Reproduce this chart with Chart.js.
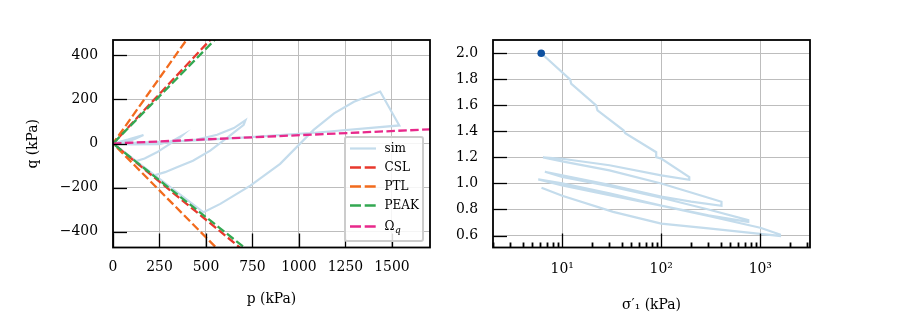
<!DOCTYPE html>
<html>
<head>
<meta charset="utf-8">
<script src="https://cdn.jsdelivr.net/npm/chart.js@4.4.0/dist/chart.umd.min.js"></script>
<style>
  html, body { margin: 0; padding: 0; background: #fff; }
  #wrap { position: relative; width: 900px; height: 330px; }
  canvas { position: absolute; top: 0; }
</style>
</head>
<body>
<div id="wrap">
  <canvas id="pq" width="450" height="330" style="left:0"></canvas>
  <canvas id="es" width="450" height="330" style="left:450px"></canvas>
</div>
<script>
// ---- left panel: stress path in p-q ----
const pSim = [0, 80, 164, 120, 60, 20, 0, 100, 250, 320, 371, 360, 300, 236, 170, 125, 60, 0,
  150, 300, 450, 560, 650, 712, 703, 620, 523, 430, 344, 280, 218, 100, 0,
  400, 739, 1100, 1540, 1437, 1296, 1189, 1079, 899, 739, 577, 487, 250, 0];
const qSim = [0, 18, 39, 22, 3, -6, 0, -4, -3, 12, 36, 28, -5, -40, -68, -80, -38, 0,
  0, 5, 18, 40, 70, 105, 85, 30, -32, -78, -108, -130, -145, -65, 0,
  12, 29, 50, 82, 236, 190, 137, 62, -92, -191, -274, -312, -160, 0];

// failure lines: extension branch, origin, compression branch
const cslP = [1000, 0, 1000];
const cslQ = [-692, 0, 900];
const ptlP = [1000, 0, 1000];
const ptlQ = [-852, 0, 1190];
const peakP = [1000, 0, 1000];
const peakQ = [-668, 0, 860];
const omegaP = [0, 1800];
const omegaQ = [0, 68];

const pTicks = [0, 250, 500, 750, 1000, 1250, 1500];
const qTicks = [-400, -200, 0, 200, 400];

// ---- right panel: void ratio vs sigma1' ----
const sigSim = [6.14, 12.05, 12.3, 22.0, 22.7, 41.6, 43.3, 89, 89, 100.7, 192, 192,
  100, 30, 10, 6.4,
  10, 30, 100, 200, 406, 406,
  200, 100, 30, 10, 6.68,
  10, 30, 100, 300, 757, 757,
  300, 100, 30, 10, 5.73,
  10, 30, 100, 300, 1000, 1582, 1582,
  1000, 300, 100, 32.7, 10, 6.18];
const eSim = [2.0, 1.798, 1.767, 1.6, 1.562, 1.408, 1.387, 1.24, 1.202, 1.19, 1.049, 1.028,
  1.062, 1.14, 1.19, 1.2,
  1.17, 1.1, 1.0, 0.93, 0.859, 0.828,
  0.86, 0.9, 0.99, 1.062, 1.09,
  1.05, 0.98, 0.89, 0.80, 0.718, 0.705,
  0.755, 0.83, 0.925, 1.0, 1.031,
  0.985, 0.91, 0.83, 0.75, 0.66, 0.608, 0.597,
  0.612, 0.655, 0.692, 0.782, 0.905, 0.967];
const sigStart = [6.14];
const eStart = [2.0];

const sigTicks = [2, 3, 4, 5, 6, 7, 8, 9, 10, 20, 30, 40, 50, 60, 70, 80, 90,
  100, 200, 300, 400, 500, 600, 700, 800, 900, 1000, 2000, 3000];
const sigMajor = [10, 100, 1000];
const sigLabels = ['10\u00b9', '10\u00b2', '10\u00b3'];
const eTicks = [0.6, 0.8, 1.0, 1.2, 1.4, 1.6, 1.8, 2.0];

const font = { family: "'DejaVu Serif', serif", size: 13.9 };
const gridColor = '#bdbdbd';
Chart.defaults.color = '#000';
Chart.defaults.font.family = font.family;

const pts = (xs, ys) => xs.map((v, i) => ({ x: v, y: ys[i] }));
const minus = v => (v < 0 ? '\u2212' + (-v) : String(v));

// inward ticks + black frame, like the matplotlib axes
const axesDecor = {
  id: 'axesDecor',
  afterDatasetsDraw(chart) {
    const { ctx, chartArea: a, scales: { x, y } } = chart;
    ctx.save();
    ctx.strokeStyle = '#000';
    for (const t of x.ticks) {
      const px = Math.round(x.getPixelForValue(t.value)) + 0.5;
      ctx.lineWidth = t.major ? 1.3 : 1.8;
      ctx.beginPath();
      ctx.moveTo(px, a.bottom);
      ctx.lineTo(px, a.bottom - (t.major ? 14 : 5));
      ctx.stroke();
    }
    ctx.lineWidth = 1.3;
    for (const t of y.ticks) {
      const py = Math.round(y.getPixelForValue(t.value)) + 0.5;
      ctx.beginPath();
      ctx.moveTo(a.left, py);
      ctx.lineTo(a.left + 14, py);
      ctx.stroke();
    }
    ctx.lineWidth = 1.8;
    ctx.strokeRect(a.left, a.top, a.right - a.left, a.bottom - a.top);
    ctx.restore();
  }
};

// framed legend in the lower right corner, label "A_b" gets a subscript
const boxLegend = {
  id: 'boxLegend',
  afterDraw(chart) {
    const { ctx, chartArea: a } = chart;
    const items = chart.data.datasets.filter(d => d.label);
    const w = 78, h = 104;
    const x0 = a.right - 7 - w, y0 = a.bottom - 6.5 - h;
    const rows = [11.5, 30.5, 49.5, 68.5, 89.5];
    ctx.save();
    ctx.fillStyle = 'rgba(255,255,255,0.85)';
    ctx.strokeStyle = '#cccccc';
    ctx.lineWidth = 2;
    ctx.beginPath();
    ctx.roundRect(x0, y0, w, h, 2);
    ctx.fill();
    ctx.stroke();
    items.forEach((d, i) => {
      const yy = y0 + rows[i];
      ctx.strokeStyle = d.borderColor;
      ctx.lineWidth = d.borderWidth;
      ctx.setLineDash(d.borderDash ? [11, 3.7] : []);
      ctx.beginPath();
      ctx.moveTo(x0 + 5, yy);
      ctx.lineTo(x0 + 31, yy);
      ctx.stroke();
      ctx.setLineDash([]);
      ctx.fillStyle = '#000';
      ctx.textBaseline = 'middle';
      const [main, sub] = d.label.split('_');
      ctx.font = "12px 'DejaVu Serif'";
      ctx.fillText(main, x0 + 39.5, yy);
      if (sub) {
        const mw = ctx.measureText(main).width;
        ctx.font = "italic 9px 'DejaVu Serif'";
        ctx.fillText(sub, x0 + 39.5 + mw + 0.5, yy + 4);
      }
    });
    ctx.restore();
  }
};

const lineSet = (label, xs, ys, color, order) => ({
  label, data: pts(xs, ys), showLine: true, pointRadius: 0,
  borderColor: color, borderWidth: 2.3, borderDash: [8.5, 3.4], order
});

new Chart(document.getElementById('pq'), {
  type: 'scatter',
  data: {
    datasets: [
      { label: 'sim', data: pts(pSim, qSim), showLine: true, pointRadius: 0,
        borderColor: '#c4dcec', borderWidth: 2.2, order: 5 },
      lineSet('CSL', cslP, cslQ, '#e8382d', 4),
      lineSet('PTL', ptlP, ptlQ, '#f26b1d', 3),
      lineSet('PEAK', peakP, peakQ, '#33a852', 2),
      lineSet('\u03a9_q', omegaP, omegaQ, '#e8298b', 1)
    ]
  },
  options: {
    responsive: false, animation: false, events: [],
    layout: { padding: { top: 40, right: 20, left: 0, bottom: 0 } },
    plugins: { legend: { display: false }, tooltip: { enabled: false } },
    scales: {
      x: {
        type: 'linear', min: 0, max: 1705,
        afterBuildTicks: s => { s.ticks = pTicks.map(v => ({ value: v, major: true })); },
        afterFit: s => { s.height = 82.5; },
        grid: { color: gridColor, lineWidth: 1, drawTicks: false },
        border: { display: false },
        ticks: { padding: 11.7, font, autoSkip: false, maxRotation: 0, callback: minus },
        title: { display: true, text: 'p (kPa)', font, padding: { top: 0, bottom: 22.7 } }
      },
      y: {
        type: 'linear', min: -472, max: 470,
        afterBuildTicks: s => { s.ticks = qTicks.map(v => ({ value: v, major: true })); },
        afterFit: s => { s.width = 113; },
        grid: { color: gridColor, lineWidth: 1, drawTicks: false },
        border: { display: false },
        ticks: { padding: 15, font, autoSkip: false, callback: minus },
        title: { display: true, text: 'q (kPa)', font, padding: { top: 24.7, bottom: 0 } }
      }
    }
  },
  plugins: [axesDecor, boxLegend]
});

new Chart(document.getElementById('es'), {
  type: 'scatter',
  data: {
    datasets: [
      { data: pts(sigStart, eStart), pointRadius: 3.8, backgroundColor: '#0d50a0',
        borderWidth: 0, order: 0 },
      { data: pts(sigSim, eSim), showLine: true, pointRadius: 0,
        borderColor: '#c4dcec', borderWidth: 2.2, order: 1 }
    ]
  },
  options: {
    responsive: false, animation: false, events: [],
    layout: { padding: { top: 40, right: 90, left: 0, bottom: 0 } },
    plugins: { legend: { display: false }, tooltip: { enabled: false } },
    scales: {
      x: {
        type: 'logarithmic', min: 2, max: 3180,
        afterBuildTicks: s => { s.ticks = sigTicks.map(v => ({ value: v, major: sigMajor.includes(v) })); },
        afterFit: s => { s.height = 82.5; },
        grid: { color: c => (c.tick && sigMajor.includes(c.tick.value) ? gridColor : 'rgba(0,0,0,0)'),
                lineWidth: 1, drawTicks: false },
        border: { display: false },
        ticks: { padding: 13.9, font, autoSkip: false, maxRotation: 0,
                 callback: v => { const i = sigMajor.indexOf(v); return i >= 0 ? sigLabels[i] : ''; } },
        title: { display: true, text: '\u03c3\u2032\u2081 (kPa)', font, padding: { top: 0, bottom: 16.7 } }
      },
      y: {
        type: 'linear', min: 0.508, max: 2.102,
        afterBuildTicks: s => { s.ticks = eTicks.map(v => ({ value: v, major: true })); },
        afterFit: s => { s.width = 43; },
        grid: { color: gridColor, lineWidth: 1, drawTicks: false },
        border: { display: false },
        ticks: { padding: 15, font, autoSkip: false, callback: v => v.toFixed(1) }
      }
    }
  },
  plugins: [axesDecor]
});
</script>
</body>
</html>
